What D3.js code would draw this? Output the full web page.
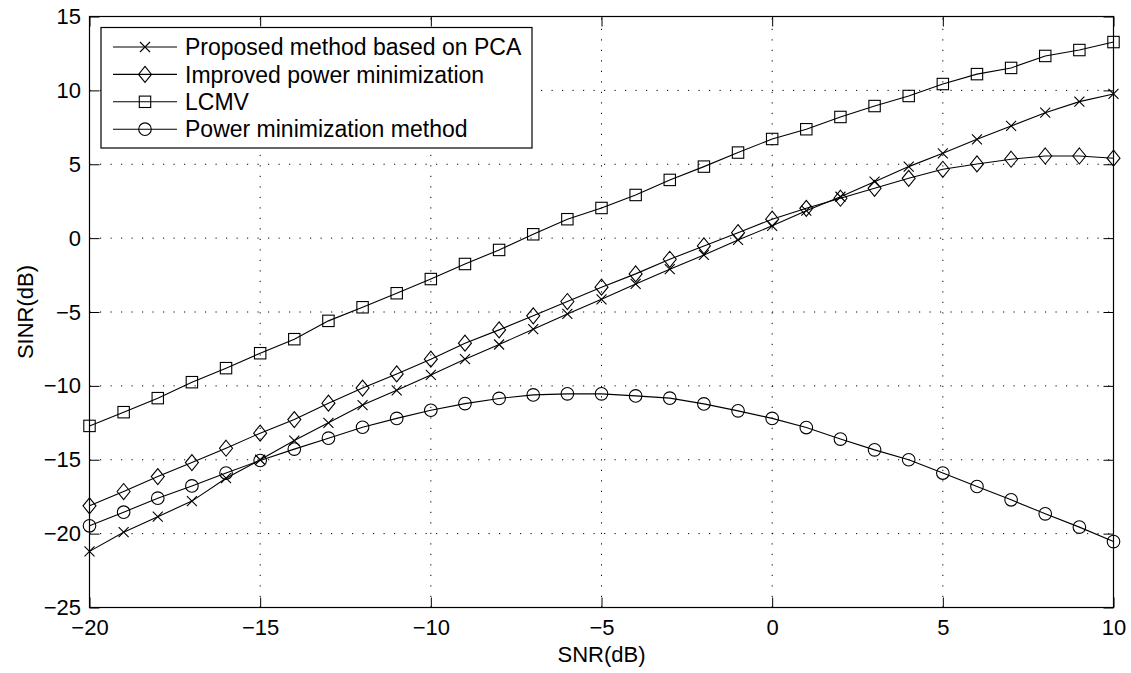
<!DOCTYPE html>
<html>
<head>
<meta charset="utf-8">
<script src="https://cdn.jsdelivr.net/npm/d3@7"></script>
<style>
body{margin:0;background:#fff;}
svg text{font-family:"Liberation Sans",Arial,Helvetica,sans-serif;fill:#000;}
</style>
</head>
<body>
<div id="chart"></div>
<script>
var snr=d3.range(-20,11);
var pcaVals=[-21.2,-19.9,-18.85,-17.8,-16.25,-15.0,-13.7,-12.5,-11.3,-10.3,-9.26,-8.19,-7.2,-6.16,-5.13,-4.14,-3.1,-2.1,-1.14,-0.12,0.83,1.86,2.8,3.82,4.84,5.74,6.69,7.59,8.49,9.24,9.76];
var improvedVals=[-18.12,-17.15,-16.14,-15.19,-14.22,-13.2,-12.28,-11.17,-10.15,-9.19,-8.19,-7.11,-6.21,-5.26,-4.29,-3.32,-2.42,-1.43,-0.53,0.37,1.28,2.02,2.7,3.37,4.05,4.66,5.02,5.34,5.56,5.56,5.41];
var lcmvVals=[-12.71,-11.78,-10.83,-9.75,-8.8,-7.79,-6.84,-5.6,-4.68,-3.73,-2.77,-1.75,-0.8,0.26,1.28,2.04,2.92,3.94,4.84,5.79,6.71,7.37,8.2,8.94,9.62,10.43,11.1,11.52,12.33,12.73,13.27];
var powerVals=[-19.47,-18.55,-17.6,-16.77,-15.9,-15.05,-14.28,-13.54,-12.8,-12.2,-11.65,-11.2,-10.85,-10.61,-10.54,-10.54,-10.68,-10.83,-11.22,-11.69,-12.2,-12.82,-13.6,-14.33,-15.0,-15.9,-16.81,-17.71,-18.66,-19.56,-20.54];
var seriesNames=["Proposed method based on PCA","Improved power minimization","LCMV","Power minimization method"];
var seriesMarkers=["x","diamond","square","circle"];
var xTicks=[-20,-15,-10,-5,0,5,10];
var yTicks=[-25,-20,-15,-10,-5,0,5,10,15];

var width=1131,height=673;
var margin={top:16.5,right:17.5,bottom:65.5,left:89.5};
var iw=width-margin.left-margin.right, ih=height-margin.top-margin.bottom;

var svg=d3.select("#chart").append("svg")
	.attr("width",width).attr("height",height);
var g=svg.append("g").attr("transform","translate("+margin.left+","+margin.top+")");

var x_scale=d3.scaleLinear().domain([-20,10]).range([0,iw]);
var y_scale=d3.scaleLinear().domain([-25,15]).range([ih,0]);

//==========grid==========
g.append("g").selectAll("line").data(xTicks.slice(1,-1))
	.enter().append("line")
	.attr("x1",function(d){return x_scale(d);}).attr("x2",function(d){return x_scale(d);})
	.attr("y1",ih).attr("y2",0)
	.attr("stroke","#000").attr("stroke-width",1).attr("stroke-dasharray","1.2,9.3");
g.append("g").selectAll("line").data(yTicks.slice(1,-1))
	.enter().append("line")
	.attr("y1",function(d){return y_scale(d);}).attr("y2",function(d){return y_scale(d);})
	.attr("x1",0).attr("x2",iw)
	.attr("stroke","#000").attr("stroke-width",1).attr("stroke-dasharray","1.2,9.3");

//==========axes (ticks inward, box on)==========
var tickLen=10;
var xb=g.append("g").attr("transform","translate(0,"+ih+")")
	.call(d3.axisBottom(x_scale).tickValues(xTicks).tickSizeInner(-tickLen).tickSizeOuter(0));
var xt=g.append("g").call(d3.axisTop(x_scale).tickValues(xTicks).tickSizeInner(-tickLen).tickSizeOuter(0).tickFormat(""));
var yl=g.append("g").call(d3.axisLeft(y_scale).tickValues(yTicks).tickSizeInner(-tickLen).tickSizeOuter(0).tickPadding(8.5));
var yr=g.append("g").attr("transform","translate("+iw+",0)")
	.call(d3.axisRight(y_scale).tickValues(yTicks).tickSizeInner(-tickLen).tickSizeOuter(0).tickFormat(""));
[xb,xt,yl,yr].forEach(function(a){
	a.select(".domain").remove();
	a.selectAll("line").attr("stroke","#000");
	a.selectAll("text").attr("font-size",22).style("font-family","'Liberation Sans',Arial,sans-serif");
});
xb.selectAll("text").attr("dy",null).attr("y",27);
g.append("rect").attr("x",0).attr("y",0).attr("width",iw).attr("height",ih)
	.attr("fill","none").attr("stroke","#000").attr("stroke-width",1.2);

//==========axis labels==========
svg.append("text").attr("x",margin.left+iw/2).attr("y",662)
	.attr("text-anchor","middle").attr("font-size",22).text("SNR(dB)");
svg.append("text").attr("transform","translate(33,"+(margin.top+ih/2)+") rotate(-90)")
	.attr("text-anchor","middle").attr("font-size",22).text("SINR(dB)");

//==========markers==========
function drawMarker(sel,type){
	if(type=="x"){
		sel.append("path").attr("d","M-5,-5L5,5M-5,5L5,-5");
	}else if(type=="diamond"){
		sel.append("path").attr("d","M0,-8L6.5,0L0,8L-6.5,0Z");
	}else if(type=="square"){
		sel.append("rect").attr("x",-5.7).attr("y",-5.7).attr("width",11.4).attr("height",11.4);
	}else{
		sel.append("circle").attr("r",6.3);
	}
	sel.selectAll("*").attr("fill","none").attr("stroke","#000").attr("stroke-width",1.1);
}

var allVals=[pcaVals,improvedVals,lcmvVals,powerVals];
var line=d3.line().x(function(d){return x_scale(d[0]);}).y(function(d){return y_scale(d[1]);});
var plot=g.append("g");
allVals.forEach(function(vals,k){
	var pts=snr.map(function(s,i){return [s,vals[i]];});
	plot.append("path").datum(pts).attr("d",line)
		.attr("fill","none").attr("stroke","#000").attr("stroke-width",1.1);
	plot.append("g").selectAll("g").data(pts)
		.enter().append("g")
		.attr("transform",function(d){return "translate("+x_scale(d[0])+","+y_scale(d[1])+")";})
		.each(function(){drawMarker(d3.select(this),seriesMarkers[k]);});
});

//==========legend==========
var lg=svg.append("g").attr("transform","translate(101,27.5)");
lg.append("rect").attr("x",0).attr("y",0).attr("width",431).attr("height",120.5)
	.attr("fill","#fff").attr("stroke","#000").attr("stroke-width",1.2);
seriesNames.forEach(function(name,k){
	var yy=19.5+k*27.4;
	lg.append("line").attr("x1",12).attr("x2",76).attr("y1",yy).attr("y2",yy)
		.attr("stroke","#000").attr("stroke-width",1.1);
	drawMarker(lg.append("g").attr("transform","translate(44,"+yy+")"),seriesMarkers[k]);
	lg.append("text").attr("x",84).attr("y",yy).attr("dy","0.36em")
		.attr("font-size",23).text(name);
});
</script>
</body>
</html>
